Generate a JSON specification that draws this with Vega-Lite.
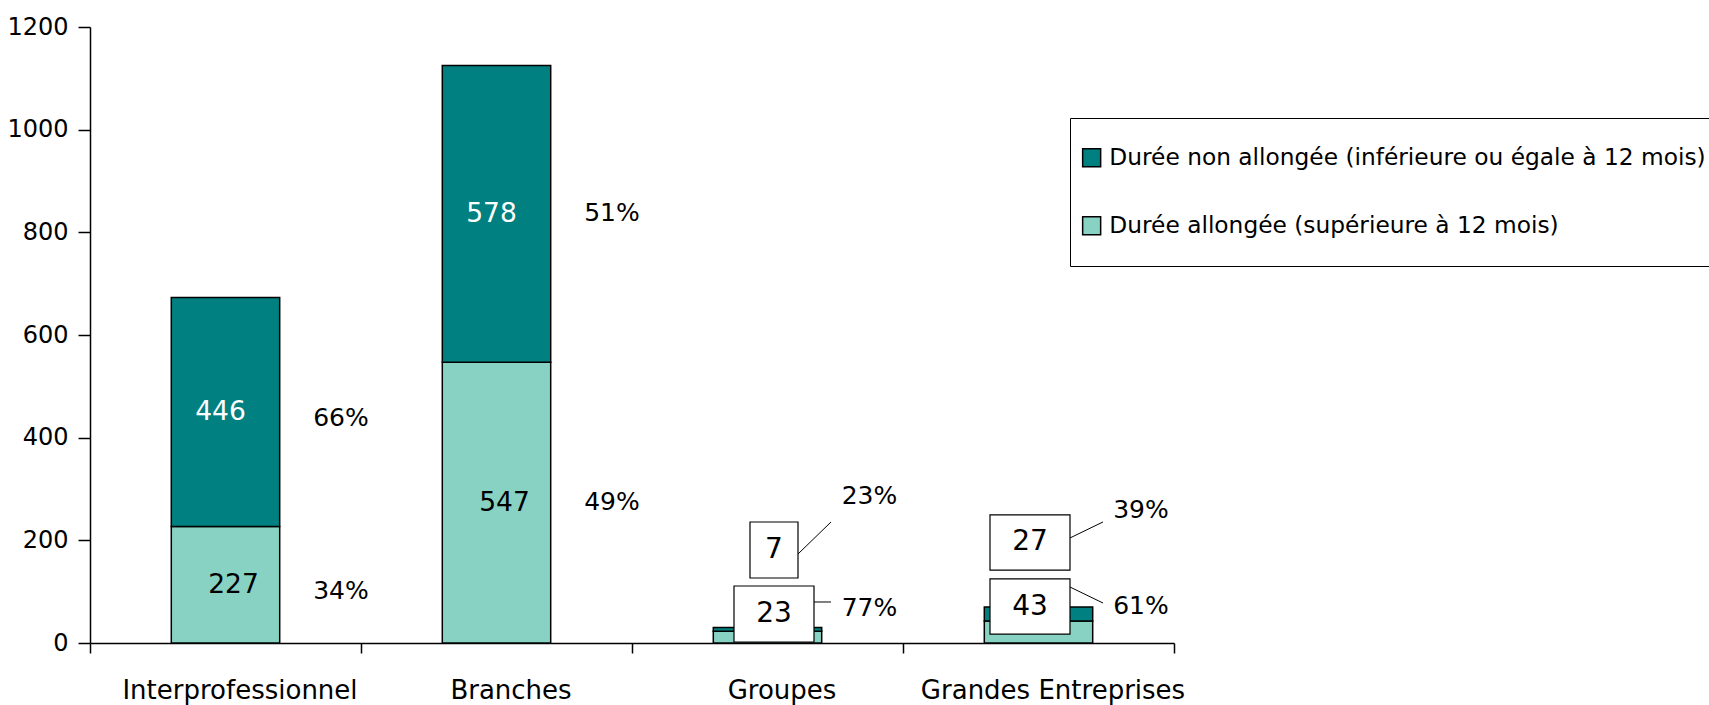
{
  "$schema": "https://vega.github.io/schema/vega-lite/v6.json",
  "width": 1084,
  "height": 616,
  "autosize": "none",
  "padding": {"left": 90, "top": 27, "right": 535, "bottom": 62},
  "background": "white",
  "config": {
    "font": "DejaVu Sans",
    "view": {"stroke": null},
    "text": {"fontSize": 25, "color": "black"}
  },
  "data": {
    "values": [
      {"cat": "Interprofessionnel", "type": "Durée allongée (supérieure à 12 mois)", "k": "all", "value": 227, "pct": 0.34},
      {"cat": "Interprofessionnel", "type": "Durée non allongée (inférieure ou égale à 12 mois)", "k": "non", "value": 446, "pct": 0.66},
      {"cat": "Branches", "type": "Durée allongée (supérieure à 12 mois)", "k": "all", "value": 547, "pct": 0.49},
      {"cat": "Branches", "type": "Durée non allongée (inférieure ou égale à 12 mois)", "k": "non", "value": 578, "pct": 0.51},
      {"cat": "Groupes", "type": "Durée allongée (supérieure à 12 mois)", "k": "all", "value": 23, "pct": 0.77},
      {"cat": "Groupes", "type": "Durée non allongée (inférieure ou égale à 12 mois)", "k": "non", "value": 7, "pct": 0.23},
      {"cat": "Grandes Entreprises", "type": "Durée allongée (supérieure à 12 mois)", "k": "all", "value": 43, "pct": 0.61},
      {"cat": "Grandes Entreprises", "type": "Durée non allongée (inférieure ou égale à 12 mois)", "k": "non", "value": 27, "pct": 0.39}
    ]
  },
  "encoding": {
    "x": {
      "field": "cat",
      "type": "nominal",
      "sort": ["Interprofessionnel", "Branches", "Groupes", "Grandes Entreprises"],
      "scale": {"paddingInner": 0, "paddingOuter": 0},
      "axis": {
        "title": null,
        "labelAngle": 0,
        "labelFontSize": 26,
        "labelColor": "black",
        "labelLimit": 500,
        "labelOffset": 14,
        "tickBand": "extent",
        "tickSize": 10,
        "tickColor": "black",
        "tickWidth": 1.5,
        "domainColor": "black",
        "domainWidth": 1.5,
        "labelPadding": 24
      }
    }
  },
  "layer": [
    {
      "mark": {"type": "bar", "width": {"band": 0.4}, "stroke": "black", "strokeWidth": 1.5},
      "encoding": {
        "y": {
          "field": "value",
          "type": "quantitative",
          "stack": "zero",
          "scale": {"domain": [0, 1200], "nice": false},
          "axis": {
            "values": [0, 200, 400, 600, 800, 1000, 1200],
            "format": "d",
            "title": null,
            "grid": false,
            "labelFontSize": 24,
            "labelColor": "black",
            "tickSize": 12,
            "labelPadding": 10,
            "domainColor": "black",
            "tickColor": "black",
            "domainWidth": 1.5,
            "tickWidth": 1.5
          }
        },
        "color": {
          "field": "type",
          "type": "nominal",
          "scale": {
            "domain": ["Durée non allongée (inférieure ou égale à 12 mois)", "Durée allongée (supérieure à 12 mois)"],
            "range": ["#008080", "#88D2C4"]
          },
          "legend": {
            "title": null,
            "orient": "none",
            "legendX": 980,
            "legendY": 91,
            "direction": "vertical",
            "padding": 28,
            "strokeColor": "black",
            "fillColor": "white",
            "labelFontSize": 23.3,
            "labelColor": "black",
            "labelLimit": 1000,
            "symbolType": "square",
            "symbolSize": 324,
            "symbolStrokeColor": "black",
            "symbolStrokeWidth": 1.5,
            "rowPadding": 43,
            "symbolOffset": -18,
            "labelOffset": 6
          }
        },
        "order": {"field": "type", "sort": "ascending"}
      }
    },
    {
      "transform": [{"filter": {"field": "cat", "oneOf": ["Interprofessionnel", "Branches"]}}],
      "mark": {"type": "text", "color": "white", "dx": -5, "fontSize": 26.5},
      "encoding": {
        "y": {"field": "value", "type": "quantitative", "stack": "zero", "bandPosition": 0.5, "title": null},
        "detail": {"field": "type"},
        "order": {"field": "type", "sort": "ascending"},
        "text": {"condition": {"test": "datum.k === 'non'", "field": "value", "type": "quantitative"}, "value": ""}
      }
    },
    {
      "transform": [{"filter": {"field": "cat", "oneOf": ["Interprofessionnel", "Branches"]}}],
      "mark": {"type": "text", "color": "black", "dx": 8, "fontSize": 26.5},
      "encoding": {
        "y": {"field": "value", "type": "quantitative", "stack": "zero", "bandPosition": 0.5, "title": null},
        "detail": {"field": "type"},
        "order": {"field": "type", "sort": "ascending"},
        "text": {"condition": {"test": "datum.k === 'all'", "field": "value", "type": "quantitative"}, "value": ""}
      }
    },
    {
      "transform": [{"filter": {"field": "cat", "equal": "Interprofessionnel"}}],
      "mark": {"type": "text", "dx": 115.5, "dy": 6},
      "encoding": {
        "y": {"field": "value", "type": "quantitative", "stack": "zero", "bandPosition": 0.5, "title": null},
        "detail": {"field": "type"},
        "order": {"field": "type", "sort": "ascending"},
        "text": {"field": "pct", "type": "quantitative", "format": ".0%"}
      }
    },
    {
      "transform": [{"filter": {"field": "cat", "equal": "Branches"}}],
      "mark": {"type": "text", "dx": 115.5, "dy": -1},
      "encoding": {
        "y": {"field": "value", "type": "quantitative", "stack": "zero", "bandPosition": 0.5, "title": null},
        "detail": {"field": "type"},
        "order": {"field": "type", "sort": "ascending"},
        "text": {"field": "pct", "type": "quantitative", "format": ".0%"}
      }
    },
    {
      "transform": [
        {"filter": {"field": "cat", "equal": "Groupes"}},
        {"joinaggregate": [{"op": "sum", "field": "value", "as": "total"}]},
        {"filter": {"field": "k", "equal": "non"}}
      ],
      "encoding": {"y": {"field": "total", "type": "quantitative", "title": null}},
      "layer": [
        {"mark": {"type": "point", "shape": "M-0.6,-0.7L0.6,-0.7L0.6,0.7L-0.6,0.7Z", "size": 6400, "filled": true, "fill": "white", "stroke": "black", "strokeWidth": 1.2, "opacity": 1, "xOffset": 6.5, "yOffset": -77.6}},
        {"mark": {"type": "text", "dx": 6.5, "dy": -77.6, "fontSize": 28}, "encoding": {"text": {"field": "value", "type": "quantitative"}}},
        {"mark": {"type": "text", "dx": 102, "dy": -131.6}, "encoding": {"text": {"field": "pct", "type": "quantitative", "format": ".0%"}}},
        {"mark": {"type": "point", "shape": "M0,0L0.66,-0.64", "size": 10000, "filled": false, "stroke": "black", "strokeWidth": 1, "opacity": 1, "xOffset": 30.5, "yOffset": -73.6}}
      ]
    },
    {
      "transform": [
        {"filter": {"field": "cat", "equal": "Groupes"}},
        {"filter": {"field": "k", "equal": "all"}}
      ],
      "encoding": {"y": {"field": "value", "type": "quantitative", "title": null}},
      "layer": [
        {"mark": {"type": "point", "shape": "M-1,-0.7L1,-0.7L1,0.7L-1,0.7Z", "size": 6400, "filled": true, "fill": "white", "stroke": "black", "strokeWidth": 1.2, "opacity": 1, "xOffset": 6.5, "yOffset": -17.2}},
        {"mark": {"type": "text", "dx": 6.5, "dy": -17.2, "fontSize": 28}, "encoding": {"text": {"field": "value", "type": "quantitative"}}},
        {"mark": {"type": "text", "dx": 102, "dy": -23.2}, "encoding": {"text": {"field": "pct", "type": "quantitative", "format": ".0%"}}},
        {"mark": {"type": "point", "shape": "M0,0L0.34,0", "size": 10000, "filled": false, "stroke": "black", "strokeWidth": 1, "opacity": 1, "xOffset": 46.5, "yOffset": -29.2}}
      ]
    },
    {
      "transform": [
        {"filter": {"field": "cat", "equal": "Grandes Entreprises"}},
        {"joinaggregate": [{"op": "sum", "field": "value", "as": "total"}]},
        {"filter": {"field": "k", "equal": "non"}}
      ],
      "encoding": {"y": {"field": "total", "type": "quantitative", "title": null}},
      "layer": [
        {"mark": {"type": "point", "shape": "M-1,-0.69L1,-0.69L1,0.69L-1,0.69Z", "size": 6400, "filled": true, "fill": "white", "stroke": "black", "strokeWidth": 1.2, "opacity": 1, "xOffset": -8.5, "yOffset": -64.6}},
        {"mark": {"type": "text", "dx": -8.5, "dy": -64.6, "fontSize": 28}, "encoding": {"text": {"field": "value", "type": "quantitative"}}},
        {"mark": {"type": "text", "dx": 102.5, "dy": -97.1}, "encoding": {"text": {"field": "pct", "type": "quantitative", "format": ".0%"}}},
        {"mark": {"type": "point", "shape": "M0,0L0.66,-0.32", "size": 10000, "filled": false, "stroke": "black", "strokeWidth": 1, "opacity": 1, "xOffset": 31.5, "yOffset": -69.1}}
      ]
    },
    {
      "transform": [
        {"filter": {"field": "cat", "equal": "Grandes Entreprises"}},
        {"filter": {"field": "k", "equal": "all"}}
      ],
      "encoding": {"y": {"field": "value", "type": "quantitative", "title": null}},
      "layer": [
        {"mark": {"type": "point", "shape": "M-1,-0.69L1,-0.69L1,0.69L-1,0.69Z", "size": 6400, "filled": true, "fill": "white", "stroke": "black", "strokeWidth": 1.2, "opacity": 1, "xOffset": -8.5, "yOffset": -14.4}},
        {"mark": {"type": "text", "dx": -8.5, "dy": -14.4, "fontSize": 28}, "encoding": {"text": {"field": "value", "type": "quantitative"}}},
        {"mark": {"type": "text", "dx": 102.5, "dy": -14.9}, "encoding": {"text": {"field": "pct", "type": "quantitative", "format": ".0%"}}},
        {"mark": {"type": "point", "shape": "M0,0L0.66,0.32", "size": 10000, "filled": false, "stroke": "black", "strokeWidth": 1, "opacity": 1, "xOffset": 31.5, "yOffset": -33.9}}
      ]
    }
  ]
}
